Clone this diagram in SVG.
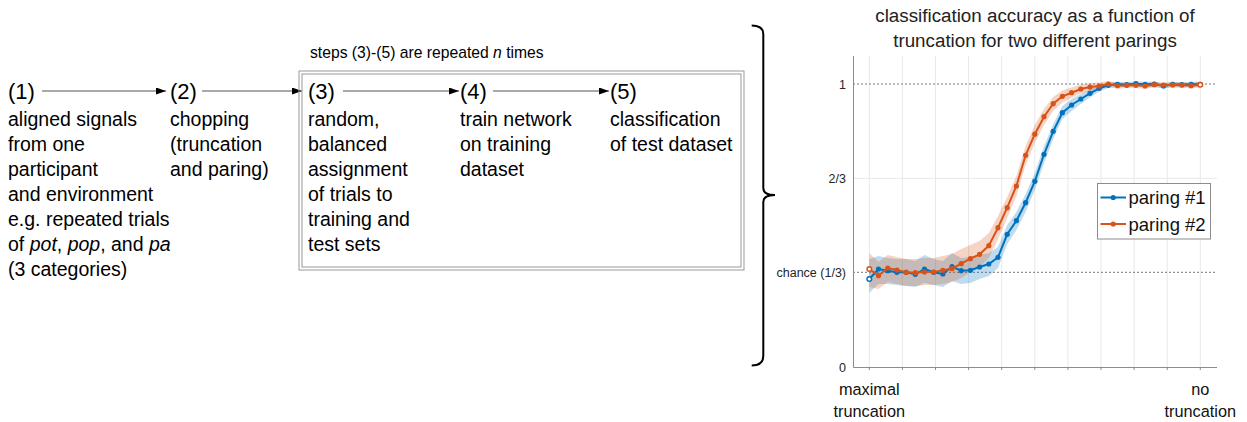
<svg xmlns="http://www.w3.org/2000/svg" width="1247" height="422" viewBox="0 0 1247 422">
<defs>
<style>
text{font-family:"Liberation Sans",Arial,sans-serif;fill:#000}
.num{font-size:22px}
.body{font-size:19.5px}
.note{font-size:15.7px}
.title{font-size:18.8px;fill:#222}
.ax{font-size:12.5px;fill:#262626}
.xl{font-size:16.3px;fill:#111}
.leg{font-size:18.5px;fill:#111}
.arrow{stroke:#555;stroke-width:1;fill:none;marker-end:url(#ah)}
.grid{stroke:#e8e8e8;stroke-width:1}
.dot{stroke:#777;stroke-width:1;stroke-dasharray:2 2}
.axis{stroke:#8c8c8c;stroke-width:1;fill:none}
.bl{stroke:#0072BD;stroke-width:2;fill:none}
.or{stroke:#D95319;stroke-width:2;fill:none}
</style>
<marker id="ah" markerWidth="11" markerHeight="8" refX="10" refY="3.5" orient="auto" markerUnits="userSpaceOnUse">
<path d="M0,0 L10,3.5 L0,7 z" fill="#000"/>
</marker>
</defs>
<rect width="1247" height="422" fill="#fff"/>

<g id="connectors">
<line class="arrow" x1="42" y1="91" x2="166" y2="91"/>
<line class="arrow" x1="202" y1="91" x2="302" y2="91"/>
<line class="arrow" x1="343" y1="91" x2="459" y2="91"/>
<line class="arrow" x1="493" y1="91" x2="609" y2="91"/>
</g>

<g id="repeat-box">
<rect x="299" y="71" width="445" height="199" fill="none" stroke="#999" stroke-width="1"/>
<rect x="302" y="74" width="439" height="193" fill="none" stroke="#999" stroke-width="1"/>
<text class="note" x="310" y="58">steps (3)-(5) are repeated <tspan font-style="italic">n</tspan> times</text>
</g>

<g id="step1">
<text class="num" x="8" y="99">(1)</text>
<text class="body" x="8">
<tspan x="8" y="126">aligned signals</tspan>
<tspan x="8" y="151">from one</tspan>
<tspan x="8" y="176">participant</tspan>
<tspan x="8" y="201">and environment</tspan>
<tspan x="8" y="226">e.g. repeated trials</tspan>
<tspan x="8" y="251">of <tspan font-style="italic">pot</tspan>, <tspan font-style="italic">pop</tspan>, and <tspan font-style="italic">pa</tspan></tspan>
<tspan x="8" y="276">(3 categories)</tspan>
</text>
</g>

<g id="step2">
<text class="num" x="170" y="99">(2)</text>
<text class="body">
<tspan x="170" y="126">chopping</tspan>
<tspan x="170" y="151">(truncation</tspan>
<tspan x="170" y="176">and paring)</tspan>
</text>
</g>

<g id="step3">
<text class="num" x="308" y="99">(3)</text>
<text class="body">
<tspan x="308" y="126">random,</tspan>
<tspan x="308" y="151">balanced</tspan>
<tspan x="308" y="176">assignment</tspan>
<tspan x="308" y="201">of trials to</tspan>
<tspan x="308" y="226">training and</tspan>
<tspan x="308" y="251">test sets</tspan>
</text>
</g>

<g id="step4">
<text class="num" x="460" y="99">(4)</text>
<text class="body">
<tspan x="460" y="126">train network</tspan>
<tspan x="460" y="151">on training</tspan>
<tspan x="460" y="176">dataset</tspan>
</text>
</g>

<g id="step5">
<text class="num" x="610" y="99">(5)</text>
<text class="body">
<tspan x="610" y="126">classification</tspan>
<tspan x="610" y="151">of test dataset</tspan>
</text>
</g>

<g id="brace">
<path d="M751.7,25.5 Q763.3,25.5 763.3,34 L763.3,188 Q763.3,195 775,195 Q763.3,195 763.3,202 L763.3,356 Q763.3,365.5 751.7,365.5" fill="none" stroke="#000" stroke-width="2"/>
</g>

<g id="chart">
<text class="title" text-anchor="middle" x="1035" y="22">classification accuracy as a function of</text>
<text class="title" text-anchor="middle" x="1035" y="47">truncation for two different parings</text>
<g id="gridlines">
<line class="grid" x1="869.3" y1="56" x2="869.3" y2="367"/>
<line class="grid" x1="902.4" y1="56" x2="902.4" y2="367"/>
<line class="grid" x1="935.5" y1="56" x2="935.5" y2="367"/>
<line class="grid" x1="968.6" y1="56" x2="968.6" y2="367"/>
<line class="grid" x1="1001.7" y1="56" x2="1001.7" y2="367"/>
<line class="grid" x1="1034.8" y1="56" x2="1034.8" y2="367"/>
<line class="grid" x1="1067.9" y1="56" x2="1067.9" y2="367"/>
<line class="grid" x1="1101" y1="56" x2="1101" y2="367"/>
<line class="grid" x1="1134.1" y1="56" x2="1134.1" y2="367"/>
<line class="grid" x1="1167.2" y1="56" x2="1167.2" y2="367"/>
<line class="grid" x1="1200.3" y1="56" x2="1200.3" y2="367"/>
<line class="grid" x1="853" y1="178.3" x2="1217" y2="178.3"/>
<line class="dot" x1="853" y1="84" x2="1217" y2="84"/>
<line class="dot" x1="853" y1="272.3" x2="1217" y2="272.3"/>
</g>
<g id="bands">
<polygon fill="#0072BD" fill-opacity="0.25" points="869.3,259 878.5,256 887.7,258 896.9,259 906.1,259 915.3,261 924.5,255 933.7,259 942.9,261 952,253 961.2,258 970.4,257 979.6,255 988.8,253 998,247 1007.2,225 1016.4,212 1025.6,194 1034.8,173 1044,146 1053.2,124 1062.4,106 1071.6,99 1080.8,94 1090,89 1099.2,85 1108.3,82.5 1117.5,81.8 1126.7,82.2 1135.9,81.2 1145.1,81.8 1154.3,81.5 1163.5,83.5 1172.7,81.8 1181.9,82.2 1191.1,81.8 1200.3,81.8 1200.3,86.8 1191.1,86.8 1181.9,87.2 1172.7,86.8 1163.5,88.5 1154.3,86.5 1145.1,86.8 1135.9,86.2 1126.7,87.2 1117.5,86.8 1108.3,88 1099.2,91.5 1090,97.5 1080.8,104 1071.6,111 1062.4,119 1053.2,139 1044,163 1034.8,190 1025.6,212 1016.4,230 1007.2,244 998,268 988.8,276 979.6,279 970.4,283 961.2,284 952,281 942.9,287 933.7,285 924.5,283 915.3,287 906.1,286 896.9,285 887.7,284 878.5,284 869.3,293"/>
<polygon fill="#D95319" fill-opacity="0.25" points="869.3,253 878.5,262 887.7,255 896.9,257 906.1,259 915.3,259 924.5,258 933.7,258 942.9,256 952,254 961.2,249 970.4,245 979.6,241 988.8,233 998,216 1007.2,197 1016.4,176 1025.6,146 1034.8,125 1044,109 1053.2,97 1062.4,90.5 1071.6,87.5 1080.8,84.5 1090,83 1099.2,82.5 1108.3,81 1117.5,83 1126.7,82.7 1135.9,82.7 1145.1,83.4 1154.3,82.1 1163.5,82.4 1172.7,82.4 1181.9,82.4 1191.1,83.1 1200.3,82.1 1200.3,87.4 1191.1,88.4 1181.9,87.7 1172.7,87.7 1163.5,87.7 1154.3,87.4 1145.1,88.7 1135.9,88 1126.7,88 1117.5,88.4 1108.3,87 1099.2,89.5 1090,91 1080.8,93.5 1071.6,98 1062.4,102.5 1053.2,111 1044,125 1034.8,143 1025.6,165 1016.4,196 1007.2,218 998,239 988.8,258 979.6,267 970.4,272 961.2,278 952,282 942.9,284 933.7,285 924.5,285 915.3,286 906.1,286 896.9,284 887.7,282 878.5,289 869.3,287"/>
</g>
<g id="axes">
<path class="axis" d="M853.5,56 V367.5 H1217"/>
<path class="axis" d="M869.3,367 v3 M902.4,367 v3 M935.5,367 v3 M968.6,367 v3 M1001.7,367 v3 M1034.8,367 v3 M1067.9,367 v3 M1101,367 v3 M1134.1,367 v3 M1167.2,367 v3 M1200.3,367 v3"/>
<text class="ax" text-anchor="end" x="846" y="88.5">1</text>
<text class="ax" text-anchor="end" x="846" y="182.8">2/3</text>
<text class="ax" text-anchor="end" x="846" y="276.8">chance (1/3)</text>
<text class="ax" text-anchor="end" x="846" y="371.5">0</text>
<text class="xl" text-anchor="middle" x="869.3" y="395">maximal</text>
<text class="xl" text-anchor="middle" x="869.3" y="416.5">truncation</text>
<text class="xl" text-anchor="middle" x="1200.3" y="395">no</text>
<text class="xl" text-anchor="middle" x="1200.3" y="416.5">truncation</text>
</g>
<g id="series-paring1">
<polyline class="bl" points="869.3,279 878.5,269 887.7,270.7 896.9,272.3 906.1,272.3 915.3,274.3 924.5,269 933.7,272.3 942.9,274 952,266.7 961.2,270.7 970.4,270.3 979.6,267 988.8,264 998,257.3 1007.2,234.3 1016.4,220.7 1025.6,202.7 1034.8,181.3 1044,154.3 1053.2,131.3 1062.4,112.7 1071.6,105 1080.8,99 1090,93.3 1099.2,88.3 1108.3,85.3 1117.5,84.3 1126.7,84.7 1135.9,83.7 1145.1,84.3 1154.3,84 1163.5,86 1172.7,84.3 1181.9,84.7 1191.1,84.3 1200.3,84.3"/>
<g fill="#0072BD">
<circle cx="869.3" cy="279" r="2.3" fill="#fff" stroke="#0072BD" stroke-width="1.5"/>
<circle cx="878.5" cy="269" r="2.6"/><circle cx="887.7" cy="270.7" r="2.6"/><circle cx="896.9" cy="272.3" r="2.6"/><circle cx="906.1" cy="272.3" r="2.6"/><circle cx="915.3" cy="274.3" r="2.6"/><circle cx="924.5" cy="269" r="2.6"/><circle cx="933.7" cy="272.3" r="2.6"/><circle cx="942.9" cy="274" r="2.6"/><circle cx="952" cy="266.7" r="2.6"/><circle cx="961.2" cy="270.7" r="2.6"/><circle cx="970.4" cy="270.3" r="2.6"/><circle cx="979.6" cy="267" r="2.6"/><circle cx="988.8" cy="264" r="2.6"/><circle cx="998" cy="257.3" r="2.6"/><circle cx="1007.2" cy="234.3" r="2.6"/><circle cx="1016.4" cy="220.7" r="2.6"/><circle cx="1025.6" cy="202.7" r="2.6"/><circle cx="1034.8" cy="181.3" r="2.6"/><circle cx="1044" cy="154.3" r="2.6"/><circle cx="1053.2" cy="131.3" r="2.6"/><circle cx="1062.4" cy="112.7" r="2.6"/><circle cx="1071.6" cy="105" r="2.6"/><circle cx="1080.8" cy="99" r="2.6"/><circle cx="1090" cy="93.3" r="2.6"/><circle cx="1099.2" cy="88.3" r="2.6"/><circle cx="1108.3" cy="85.3" r="2.6"/><circle cx="1117.5" cy="84.3" r="2.6"/><circle cx="1126.7" cy="84.7" r="2.6"/><circle cx="1135.9" cy="83.7" r="2.6"/><circle cx="1145.1" cy="84.3" r="2.6"/><circle cx="1154.3" cy="84" r="2.6"/><circle cx="1163.5" cy="86" r="2.6"/><circle cx="1172.7" cy="84.3" r="2.6"/><circle cx="1181.9" cy="84.7" r="2.6"/><circle cx="1191.1" cy="84.3" r="2.6"/><circle cx="1200.3" cy="84.3" r="2.6"/>
</g>
</g>
<g id="series-paring2">
<polyline class="or" points="869.3,269 878.5,275.7 887.7,268 896.9,270 906.1,272.3 915.3,272.7 924.5,272 933.7,272 942.9,270.3 952,268.7 961.2,263.7 970.4,258.7 979.6,254.3 988.8,245.7 998,227.7 1007.2,207.7 1016.4,186 1025.6,155.3 1034.8,134.2 1044,116.7 1053.2,103.7 1062.4,96.3 1071.6,92.7 1080.8,89 1090,87 1099.2,86 1108.3,84 1117.5,85.7 1126.7,85.3 1135.9,85.3 1145.1,86 1154.3,84.7 1163.5,85 1172.7,85 1181.9,85 1191.1,85.7 1200.3,84.7"/>
<g fill="#D95319">
<circle cx="869.3" cy="269" r="2.3" fill="#fff" stroke="#D95319" stroke-width="1.5"/>
<circle cx="878.5" cy="275.7" r="2.6"/><circle cx="887.7" cy="268" r="2.6"/><circle cx="896.9" cy="270" r="2.6"/><circle cx="906.1" cy="272.3" r="2.6"/><circle cx="915.3" cy="272.7" r="2.6"/><circle cx="924.5" cy="272" r="2.6"/><circle cx="933.7" cy="272" r="2.6"/><circle cx="942.9" cy="270.3" r="2.6"/><circle cx="952" cy="268.7" r="2.6"/><circle cx="961.2" cy="263.7" r="2.6"/><circle cx="970.4" cy="258.7" r="2.6"/><circle cx="979.6" cy="254.3" r="2.6"/><circle cx="988.8" cy="245.7" r="2.6"/><circle cx="998" cy="227.7" r="2.6"/><circle cx="1007.2" cy="207.7" r="2.6"/><circle cx="1016.4" cy="186" r="2.6"/><circle cx="1025.6" cy="155.3" r="2.6"/><circle cx="1034.8" cy="134.2" r="2.6"/><circle cx="1044" cy="116.7" r="2.6"/><circle cx="1053.2" cy="103.7" r="2.6"/><circle cx="1062.4" cy="96.3" r="2.6"/><circle cx="1071.6" cy="92.7" r="2.6"/><circle cx="1080.8" cy="89" r="2.6"/><circle cx="1090" cy="87" r="2.6"/><circle cx="1099.2" cy="86" r="2.6"/><circle cx="1108.3" cy="84" r="2.6"/><circle cx="1117.5" cy="85.7" r="2.6"/><circle cx="1126.7" cy="85.3" r="2.6"/><circle cx="1135.9" cy="85.3" r="2.6"/><circle cx="1145.1" cy="86" r="2.6"/><circle cx="1154.3" cy="84.7" r="2.6"/><circle cx="1163.5" cy="85" r="2.6"/><circle cx="1172.7" cy="85" r="2.6"/><circle cx="1181.9" cy="85" r="2.6"/><circle cx="1191.1" cy="85.7" r="2.6"/>
<circle cx="1200.3" cy="84.7" r="2.3" fill="#fff" stroke="#D95319" stroke-width="1.5"/>
</g>
</g>
<g id="legend">
<rect x="1097.5" y="183.5" width="113" height="55.5" fill="#fff" stroke="#8c8c8c" stroke-width="1"/>
<line x1="1100.5" y1="197.5" x2="1126" y2="197.5" stroke="#0072BD" stroke-width="2"/>
<circle cx="1113.2" cy="197.5" r="2.6" fill="#0072BD"/>
<text class="leg" x="1128.5" y="204">paring #1</text>
<line x1="1100.5" y1="224" x2="1126" y2="224" stroke="#D95319" stroke-width="2"/>
<circle cx="1113.2" cy="224" r="2.6" fill="#D95319"/>
<text class="leg" x="1128.5" y="230.5">paring #2</text>
</g>
</g>
</svg>
